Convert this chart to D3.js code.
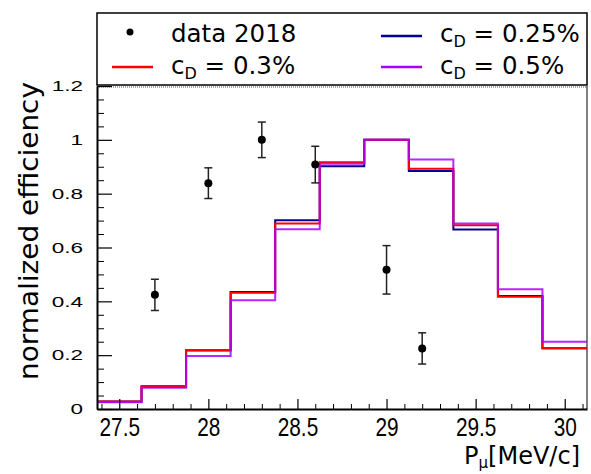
<!DOCTYPE html>
<html>
<head>
<meta charset="utf-8">
<script src="https://cdn.jsdelivr.net/npm/d3@7"></script>
<style>
  body { margin: 0; background: #ffffff; }
  svg { display: block; }
</style>
</head>
<body>
<div id="chart-container"></div>
<script>
// bin centres of the momentum histogram (bin width 0.25 MeV/c)
const binCenters = [27.5, 27.75, 28.0, 28.25, 28.5, 28.75, 29.0, 29.25, 29.5, 29.75, 30.0];
const binWidth = 0.25;

// simulated normalized efficiency for each c_D value
const effCd025 = [0.028, 0.083, 0.217, 0.435, 0.701, 0.902, 1.0, 0.884, 0.667, 0.420, 0.226];
const effCd03 = [0.028, 0.085, 0.219, 0.432, 0.689, 0.917, 1.0, 0.893, 0.683, 0.417, 0.226];
const effCd05 = [0.025, 0.079, 0.197, 0.404, 0.668, 0.911, 1.0, 0.927, 0.689, 0.445, 0.250];

// data 2018 points
const dataMomentum = [27.7, 28.0, 28.3, 28.6, 29.0, 29.2];
const dataEff = [0.424, 0.839, 1.0, 0.908, 0.517, 0.225];
const dataErr = [0.058, 0.057, 0.066, 0.068, 0.090, 0.058];

// axis ticks
const xTicks = [27.5, 28, 28.5, 29, 29.5, 30];
const xMinorTicks = [27.4, 27.6, 27.7, 27.8, 27.9, 28.1, 28.2, 28.3, 28.4, 28.6, 28.7, 28.8, 28.9,
  29.1, 29.2, 29.3, 29.4, 29.6, 29.7, 29.8, 29.9, 30.1];
const yTicks = [0, 0.2, 0.4, 0.6, 0.8, 1, 1.2];
const yMinorTicks = [0.05, 0.1, 0.15, 0.25, 0.3, 0.35, 0.45, 0.5, 0.55, 0.65, 0.7, 0.75,
  0.85, 0.9, 0.95, 1.05, 1.1, 1.15];

const width = 591;
const height = 474;
const margin = { top: 86, right: 4, bottom: 65, left: 97 };

const xDomain = [binCenters[0] - binWidth / 2, binCenters[binCenters.length - 1] + binWidth / 2];

const x = d3.scaleLinear().domain(xDomain).range([margin.left, width - margin.right]);
const y = d3.scaleLinear().domain([0, 1.2]).range([height - margin.bottom, margin.top]);

const svg = d3
  .select("#chart-container")
  .append("svg")
  .attr("width", width)
  .attr("height", height);

// frame (right + dotted top)
svg.append("line")
  .attr("x1", x.range()[1]).attr("x2", x.range()[1])
  .attr("y1", y(1.2)).attr("y2", y(0))
  .attr("stroke", "#000").attr("stroke-width", 1);
svg.append("line")
  .attr("x1", x.range()[0]).attr("x2", x.range()[1])
  .attr("y1", y(1.2) + 1).attr("y2", y(1.2) + 1)
  .attr("stroke", "#555").attr("stroke-width", 1)
  .attr("stroke-dasharray", "1,1");

// histograms
function stepPoints(values) {
  const pts = values.map((v, i) => [binCenters[i] - binWidth / 2, v]);
  pts.push([binCenters[binCenters.length - 1] + binWidth / 2, values[values.length - 1]]);
  return pts;
}

const stepLine = d3
  .line()
  .x((d) => x(d[0]))
  .y((d) => y(d[1]))
  .curve(d3.curveStepAfter);

const series = [
  { values: effCd025, color: "#000099", opacity: 1 },
  { values: effCd03, color: "#ff0000", opacity: 1 },
  { values: effCd05, color: "#aa00ff", opacity: 0.85 },
];

series.forEach((s) => {
  svg.append("path")
    .attr("d", stepLine(stepPoints(s.values)))
    .attr("fill", "none")
    .attr("stroke", s.color)
    .attr("stroke-opacity", s.opacity)
    .attr("stroke-width", 2);
});

// data points with error bars
const pts = svg.append("g").selectAll("g")
  .data(dataMomentum.map((m, i) => ({ m: m, v: dataEff[i], e: dataErr[i] })))
  .enter()
  .append("g");

pts.append("line")
  .attr("x1", (d) => x(d.m)).attr("x2", (d) => x(d.m))
  .attr("y1", (d) => y(d.v + d.e)).attr("y2", (d) => y(d.v - d.e))
  .attr("stroke", "#222").attr("stroke-width", 1.5);
[1, -1].forEach((sgn) => {
  pts.append("line")
    .attr("x1", (d) => x(d.m) - 4).attr("x2", (d) => x(d.m) + 4)
    .attr("y1", (d) => y(d.v + sgn * d.e)).attr("y2", (d) => y(d.v + sgn * d.e))
    .attr("stroke", "#222").attr("stroke-width", 1.5);
});
pts.append("circle")
  .attr("cx", (d) => x(d.m)).attr("cy", (d) => y(d.v))
  .attr("r", 4).attr("fill", "#000");

// stretch tick labels like the ROOT output
function stretchLabels(sel, factor) {
  sel.each(function () {
    const len = this.getComputedTextLength();
    d3.select(this)
      .attr("textLength", len * factor)
      .attr("lengthAdjust", "spacingAndGlyphs");
  });
}

// y axis
const yAxis = svg.append("g")
  .attr("transform", `translate(${margin.left},0)`)
  .call(d3.axisLeft(y).tickValues(yTicks).tickSize(-15).tickSizeOuter(0)
    .tickPadding(14).tickFormat((d) => d3.format("")(+d.toFixed(1))));
svg.append("g")
  .attr("transform", `translate(${margin.left},0)`)
  .call(d3.axisLeft(y).tickValues(yMinorTicks).tickSize(-7).tickFormat(""))
  .select(".domain").remove();
yAxis.select(".domain").attr("stroke-width", 2);
yAxis.selectAll(".tick line").attr("stroke-width", 1.2);
yAxis.selectAll("text")
  .attr("font-family", "'Liberation Sans', Arial, sans-serif")
  .attr("font-size", 15)
  .attr("fill", "#000")
  .call(stretchLabels, 1.5);

// x axis
const xAxis = svg.append("g")
  .attr("transform", `translate(0,${height - margin.bottom})`)
  .call(d3.axisBottom(x).tickValues(xTicks).tickSize(-10).tickSizeOuter(0)
    .tickPadding(9).tickFormat(d3.format("")));
svg.append("g")
  .attr("transform", `translate(0,${height - margin.bottom})`)
  .call(d3.axisBottom(x).tickValues(xMinorTicks).tickSize(-5).tickFormat(""))
  .select(".domain").remove();
xAxis.select(".domain").attr("stroke-width", 2);
xAxis.selectAll(".tick line").attr("stroke-width", 1.2);
xAxis.selectAll("text")
  .attr("font-family", "'Liberation Sans', Arial, sans-serif")
  .attr("font-size", 26)
  .attr("fill", "#000")
  .call(stretchLabels, 0.8);
svg.selectAll(".tick line").attr("stroke", "#000");

// axis titles
svg.append("text")
  .attr("transform", "translate(38,231) rotate(-90)")
  .attr("text-anchor", "middle")
  .attr("font-family", "'DejaVu Sans', sans-serif")
  .attr("font-size", 27)
  .attr("textLength", 298)
  .attr("lengthAdjust", "spacingAndGlyphs")
  .text("normalized efficiency");

const xTitle = svg.append("text")
  .attr("x", 580).attr("y", 464)
  .attr("text-anchor", "end")
  .attr("font-family", "'DejaVu Sans', sans-serif")
  .attr("font-size", 24);
xTitle.append("tspan").text("P");
xTitle.append("tspan").attr("font-size", 15).attr("dy", 4).text("μ");
xTitle.append("tspan").attr("dy", -4).text("[MeV/c]");

// legend
svg.append("rect")
  .attr("x", margin.left).attr("y", 13)
  .attr("width", width - margin.right - margin.left).attr("height", 72)
  .attr("fill", "#fff").attr("stroke", "#000").attr("stroke-width", 1.5);

const legendFont = "'DejaVu Sans', sans-serif";

svg.append("circle").attr("cx", 130).attr("cy", 32).attr("r", 3.5).attr("fill", "#000");
svg.append("text")
  .attr("x", 171).attr("y", 42)
  .attr("font-family", legendFont).attr("font-size", 24.5)
  .text("data 2018");

const legendItems = [
  { label: "0.3%", color: "#ff0000", lx: 112, ty: 74, ly: 67 },
  { label: "0.25%", color: "#000099", lx: 381, ty: 42, ly: 36 },
  { label: "0.5%", color: "#aa00ff", lx: 381, ty: 74, ly: 67 },
];

legendItems.forEach((item) => {
  svg.append("line")
    .attr("x1", item.lx).attr("x2", item.lx + 41)
    .attr("y1", item.ly).attr("y2", item.ly)
    .attr("stroke", item.color).attr("stroke-width", 2.5);
  const t = svg.append("text")
    .attr("x", item.lx + 59).attr("y", item.ty)
    .attr("font-family", legendFont).attr("font-size", 24.5);
  t.append("tspan").text("c");
  t.append("tspan").attr("font-size", 16).attr("dy", 5).text("D");
  t.append("tspan").attr("dy", -5).text(" = " + item.label);
});
</script>
</body>
</html>
